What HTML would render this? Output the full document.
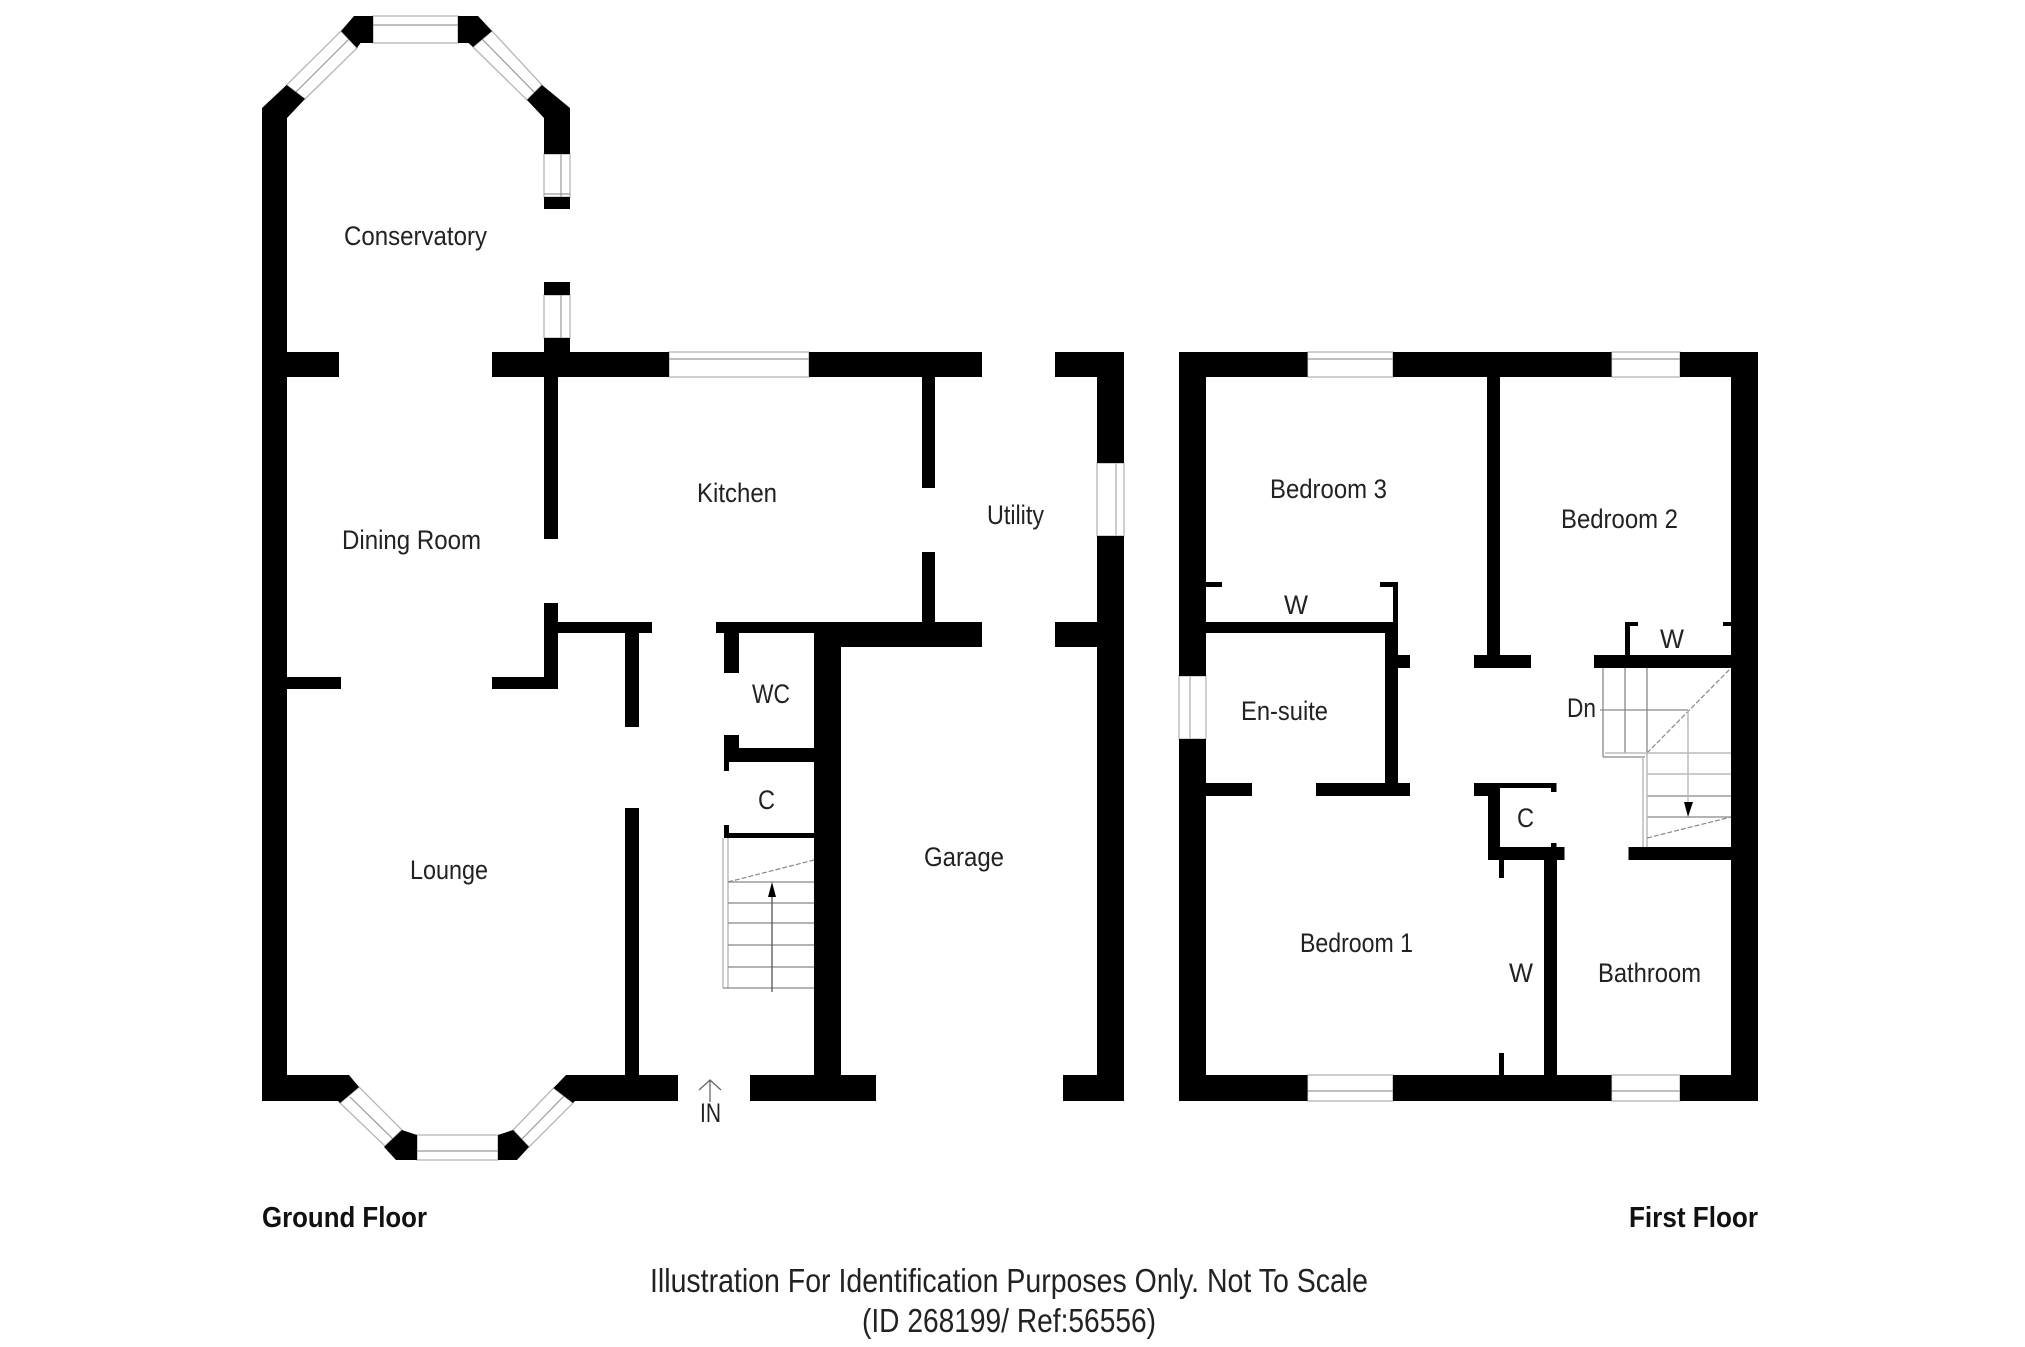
<!DOCTYPE html>
<html>
<head>
<meta charset="utf-8">
<style>
html,body{margin:0;padding:0;background:#fff;width:2025px;height:1347px;overflow:hidden}
svg{display:block}
text{font-family:"Liberation Sans",sans-serif;font-size:26.5px;fill:#222}
.b{font-weight:bold;font-size:30.5px;fill:#111}
.f{font-size:33px;fill:#222}
.w{fill:#fff;stroke:#b5b5b5;stroke-width:1.3}
.l{stroke:#999;stroke-width:1.2;fill:none}
.s{stroke:#888;stroke-width:1.3;fill:none}
.g{stroke:#bbb;stroke-width:1.5;fill:none}
.d{stroke:#888;stroke-width:1.2;stroke-dasharray:5 2;fill:none}
</style>
</head>
<body>
<svg width="2025" height="1347" viewBox="0 0 2025 1347" xmlns="http://www.w3.org/2000/svg">
<rect width="2025" height="1347" fill="#fff"/>

<!-- ground floor windows -->
<g>
<polygon class="w" points="286.6,85 305,99 357,48 341,31"/><line class="l" x1="296" y1="92" x2="349" y2="39"/>
<rect class="w" x="373" y="16" width="85" height="27"/><line class="l" x1="373" y1="25" x2="458" y2="25"/>
<polygon class="w" points="492,31 473,47 527,100 542,85"/><line class="l" x1="482" y1="39" x2="535" y2="93"/>
<rect class="w" x="544" y="154" width="26" height="43"/><line class="l" x1="561" y1="154" x2="561" y2="197"/><line class="l" x1="544" y1="194" x2="570" y2="194"/>
<rect class="w" x="544" y="295" width="26" height="43"/><line class="l" x1="561" y1="295" x2="561" y2="338"/>
<rect class="w" x="669" y="352" width="140" height="25"/><line class="l" x1="669" y1="359" x2="809" y2="359"/>
<rect class="w" x="1097" y="463" width="27" height="73"/><line class="g" x1="1116" y1="463" x2="1116" y2="536"/>
<polygon class="w" points="359,1087 340,1103 385,1146 402,1130"/><line class="l" x1="350" y1="1097" x2="394" y2="1140"/>
<rect class="w" x="417" y="1135" width="81" height="25"/><line class="l" x1="417" y1="1151" x2="498" y2="1151"/>
<polygon class="w" points="513,1130 529,1147 573,1103 553.5,1088"/><line class="l" x1="521" y1="1140" x2="565" y2="1095"/>
</g>

<!-- ground floor walls -->
<g fill="#000">
<polygon points="262,108 286.6,85 305,99 287,118 287,1075 349,1075 359,1087 340,1103 338,1101 262,1101"/>
<polygon points="341,31 354,16 373,16 373,43 360.5,43 357,48"/>
<polygon points="458,16 478,16 492,31 473,47 468.5,43 458,43"/>
<polygon points="542,85 570,108 570,154 544,154 544,118 527,100"/>
<rect x="544" y="197" width="26" height="12"/>
<rect x="544" y="282" width="26" height="13"/>
<rect x="544" y="338" width="26" height="14"/>
<rect x="287" y="352" width="52" height="25"/>
<rect x="492" y="352" width="177" height="25"/>
<rect x="809" y="352" width="173" height="25"/>
<rect x="1055" y="352" width="69" height="25"/>
<rect x="1097" y="377" width="27" height="86"/>
<rect x="1097" y="536" width="27" height="565"/>
<rect x="1055" y="622" width="42" height="25"/>
<rect x="1063" y="1075" width="61" height="26"/>
<rect x="544" y="377" width="14" height="162"/>
<rect x="922" y="377" width="13" height="111"/>
<rect x="922" y="552" width="13" height="70"/>
<rect x="716" y="622" width="266" height="11"/>
<rect x="814" y="633" width="168" height="14"/>
<rect x="814" y="622" width="27" height="453"/>
<rect x="724" y="633" width="15" height="40"/>
<rect x="724" y="735" width="15" height="27"/>
<rect x="724" y="748" width="90" height="14"/>
<rect x="724" y="762" width="5" height="9"/>
<rect x="724" y="825" width="5" height="13"/>
<rect x="724" y="833" width="90" height="5"/>
<rect x="544" y="603" width="14" height="86"/>
<rect x="492" y="677" width="66" height="12"/>
<rect x="287" y="677" width="54" height="12"/>
<rect x="558" y="622" width="94" height="11"/>
<rect x="625" y="633" width="14" height="94"/>
<rect x="625" y="808" width="14" height="267"/>
<polygon points="402,1130 417,1135 417,1160 396,1160 384,1147"/>
<polygon points="498,1135 513,1130 529,1147 517,1160 498,1160"/>
<polygon points="566,1075 678,1075 678,1101 575,1101 573,1103 553.5,1088"/>
<rect x="750" y="1075" width="126" height="26"/>
</g>

<!-- ground floor stairs -->
<g>
<line class="g" x1="723" y1="838" x2="723" y2="988"/>
<line class="g" x1="728" y1="838" x2="728" y2="988"/>
<line class="d" x1="728" y1="882" x2="814" y2="860"/>
<line class="s" x1="728" y1="882" x2="814" y2="882"/>
<line class="s" x1="728" y1="903" x2="814" y2="903"/>
<line class="s" x1="728" y1="923" x2="814" y2="923"/>
<line class="s" x1="728" y1="945" x2="814" y2="945"/>
<line class="s" x1="728" y1="967" x2="814" y2="967"/>
<line class="s" x1="723" y1="988" x2="814" y2="988"/>
<line x1="772" y1="895" x2="772" y2="992" stroke="#555" stroke-width="1.3"/>
<polygon points="772,882 768,897 776,897" fill="#000"/>
</g>

<!-- IN arrow -->
<g stroke="#666" stroke-width="1.3" fill="none">
<line x1="710" y1="1080" x2="710" y2="1102"/>
<polyline points="699,1090 710,1080 721,1090"/>
</g>

<!-- first floor windows -->
<g>
<rect class="w" x="1307.5" y="352" width="85.5" height="25"/><line class="l" x1="1307.5" y1="359" x2="1393" y2="359"/>
<rect class="w" x="1611.5" y="352" width="68.5" height="25"/><line class="l" x1="1611.5" y1="359" x2="1680" y2="359"/>
<rect class="w" x="1307.5" y="1075" width="85.5" height="26"/><line class="l" x1="1307.5" y1="1091" x2="1393" y2="1091"/>
<rect class="w" x="1611.5" y="1075" width="68.5" height="26"/><line class="l" x1="1611.5" y1="1091" x2="1680" y2="1091"/>
<rect class="w" x="1179" y="676" width="27" height="63"/><line class="g" x1="1190" y1="676" x2="1190" y2="739"/>
</g>

<!-- first floor walls -->
<g fill="#000">
<rect x="1179" y="352" width="128.5" height="25"/>
<rect x="1393" y="352" width="218.5" height="25"/>
<rect x="1680" y="352" width="78" height="25"/>
<rect x="1179" y="1075" width="128.5" height="26"/>
<rect x="1393" y="1075" width="218.5" height="26"/>
<rect x="1680" y="1075" width="78" height="26"/>
<rect x="1179" y="352" width="27" height="324"/>
<rect x="1179" y="739" width="27" height="362"/>
<rect x="1731" y="352" width="27" height="749"/>
<rect x="1495" y="377" width="0" height="0"/>
<rect x="1495" y="377" width="0" height="0"/>
<rect x="1495" y="377" width="0" height="0"/>
<rect x="1487" y="377" width="13" height="278"/>
<rect x="1474" y="655" width="57" height="13"/>
<rect x="1594" y="655" width="137" height="13"/>
<rect x="1625" y="622" width="5" height="33"/>
<rect x="1625" y="622" width="13" height="4"/>
<rect x="1723" y="622" width="8" height="4"/>
<rect x="1206" y="582" width="16" height="5"/>
<rect x="1380" y="582" width="18" height="5"/>
<rect x="1393" y="582" width="5" height="40"/>
<rect x="1206" y="622" width="192" height="11"/>
<rect x="1385" y="622" width="13" height="161"/>
<rect x="1398" y="655" width="12" height="13"/>
<rect x="1206" y="783" width="46" height="13"/>
<rect x="1316" y="783" width="94" height="13"/>
<rect x="1474" y="783" width="26" height="13"/>
<rect x="1474" y="783" width="82.5" height="5"/>
<rect x="1551" y="783" width="5.5" height="9"/>
<rect x="1488" y="796" width="12" height="64"/>
<rect x="1488" y="847" width="76.5" height="13"/>
<rect x="1551" y="843" width="5.5" height="5"/>
<rect x="1544" y="860" width="13" height="215"/>
<rect x="1499" y="860" width="5" height="18"/>
<rect x="1499" y="1053" width="5" height="22"/>
<rect x="1628.5" y="847" width="102.5" height="13"/>
</g>

<!-- first floor stairs -->
<g>
<line class="s" x1="1603" y1="668" x2="1603" y2="757"/>
<line class="s" x1="1625" y1="668" x2="1625" y2="753"/>
<line class="s" x1="1647" y1="668" x2="1647" y2="753"/>
<line class="s" x1="1600" y1="710" x2="1688" y2="710"/>
<line class="s" x1="1603" y1="757" x2="1645" y2="757"/>
<line class="d" x1="1647" y1="753" x2="1731" y2="668"/>
<line class="g" x1="1605" y1="753" x2="1731" y2="753"/>
<line class="g" x1="1647" y1="774" x2="1731" y2="774"/>
<line class="s" x1="1647" y1="796" x2="1731" y2="796"/>
<line class="s" x1="1647" y1="817" x2="1731" y2="817"/>
<line class="g" x1="1643" y1="757" x2="1643" y2="847"/>
<line class="g" x1="1647" y1="753" x2="1647" y2="847"/>
<line class="g" x1="1688" y1="710" x2="1688" y2="805"/>
<polygon points="1688,817 1684,802 1693,802" fill="#000"/>
<line class="d" x1="1647" y1="838" x2="1731" y2="817"/>
</g>

<!-- labels -->
<g>
<text x="344" y="245" textLength="143" lengthAdjust="spacingAndGlyphs">Conservatory</text>
<text x="342" y="549" textLength="139" lengthAdjust="spacingAndGlyphs">Dining Room</text>
<text x="697" y="502" textLength="80" lengthAdjust="spacingAndGlyphs">Kitchen</text>
<text x="987" y="524" textLength="57" lengthAdjust="spacingAndGlyphs">Utility</text>
<text x="752" y="703" textLength="38" lengthAdjust="spacingAndGlyphs">WC</text>
<text x="758" y="809" textLength="17" lengthAdjust="spacingAndGlyphs">C</text>
<text x="410" y="879" textLength="78" lengthAdjust="spacingAndGlyphs">Lounge</text>
<text x="924" y="866" textLength="80" lengthAdjust="spacingAndGlyphs">Garage</text>
<text x="700" y="1122" textLength="21" lengthAdjust="spacingAndGlyphs">IN</text>
<text x="1270" y="498" textLength="117" lengthAdjust="spacingAndGlyphs">Bedroom 3</text>
<text x="1561" y="528" textLength="117" lengthAdjust="spacingAndGlyphs">Bedroom 2</text>
<text x="1284" y="614" textLength="24" lengthAdjust="spacingAndGlyphs">W</text>
<text x="1660" y="648" textLength="24" lengthAdjust="spacingAndGlyphs">W</text>
<text x="1567" y="717" textLength="29" lengthAdjust="spacingAndGlyphs">Dn</text>
<text x="1241" y="720" textLength="87" lengthAdjust="spacingAndGlyphs">En-suite</text>
<text x="1517" y="827" textLength="17" lengthAdjust="spacingAndGlyphs">C</text>
<text x="1300" y="952" textLength="113" lengthAdjust="spacingAndGlyphs">Bedroom 1</text>
<text x="1509" y="982" textLength="24" lengthAdjust="spacingAndGlyphs">W</text>
<text x="1598" y="982" textLength="103" lengthAdjust="spacingAndGlyphs">Bathroom</text>
<text class="b" x="262" y="1227" textLength="165" lengthAdjust="spacingAndGlyphs" style="font-size:29px">Ground Floor</text>
<text class="b" x="1629" y="1227" textLength="129" lengthAdjust="spacingAndGlyphs" style="font-size:29px">First Floor</text>
<text class="f" x="650" y="1292" textLength="718" lengthAdjust="spacingAndGlyphs">Illustration For Identification Purposes Only. Not To Scale</text>
<text class="f" x="862" y="1332" textLength="294" lengthAdjust="spacingAndGlyphs">(ID 268199/ Ref:56556)</text>
</g>
</svg>
</body>
</html>
